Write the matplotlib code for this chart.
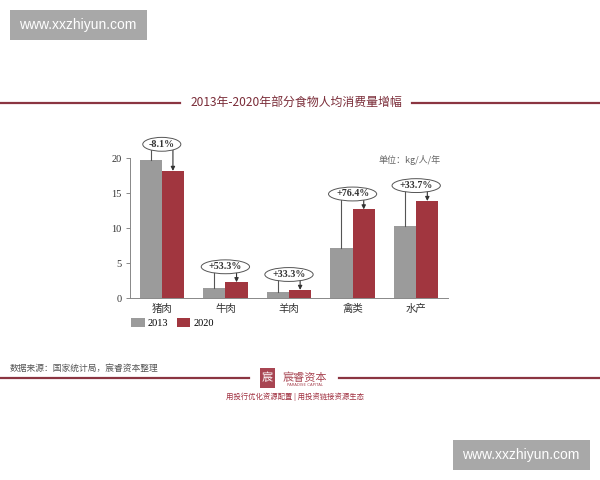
import matplotlib
matplotlib.use("Agg")
import matplotlib.pyplot as plt
from matplotlib.patches import Rectangle
from matplotlib.lines import Line2D
import numpy as np

plt.rcParams['font.family'] = ['Noto Sans CJK SC', 'DejaVu Sans']

categories = ['猪肉', '牛肉', '羊肉', '禽类', '水产']
v2013 = [19.8, 1.5, 0.9, 7.2, 10.4]
v2020 = [18.2, 2.3, 1.2, 12.7, 13.9]
changes = ['-8.1%', '+53.3%', '+33.3%', '+76.4%', '+33.7%']
yticks = [0, 5, 10, 15, 20]

GRAY = '#9b9b9b'
RED = '#a1363f'
DARKRED = '#8b3541'
SERIF = ['Liberation Serif', 'DejaVu Serif']

fig = plt.figure(figsize=(6, 4.8), dpi=100)
fig.patch.set_facecolor('white')

# watermarks
for (x0, y0) in [(10, 10), (453, 440)]:
    fig.patches.append(Rectangle((x0 / 600, 1 - (y0 + 29.5) / 480), 136.5 / 600, 29.5 / 480,
                                 transform=fig.transFigure, fc='#a8a8a8', ec='none'))
    fig.text((x0 + 68) / 600, 1 - (y0 + 15) / 480, 'www.xxzhiyun.com', color='white',
             fontsize=10, family=['Liberation Sans', 'DejaVu Sans'], ha='center', va='center')

# title with lines
ty = 1 - 102.5 / 480
fig.add_artist(Line2D([0, 180 / 600], [ty, ty], transform=fig.transFigure, color=DARKRED, lw=1.6))
fig.add_artist(Line2D([412 / 600, 1], [ty, ty], transform=fig.transFigure, color=DARKRED, lw=1.6))
fig.text(296 / 600, ty, '2013年-2020年部分食物人均消费量增幅', color='#7a2c38', fontsize=8.6,
         ha='center', va='center', family=['Noto Sans CJK SC', 'DejaVu Sans'])

# axes
ax = fig.add_axes([130 / 600, 1 - 298.3 / 480, 318 / 600, 140 / 480])
x = np.arange(len(categories))
w = 0.35
ax.bar(x - w / 2, v2013, w, color=GRAY, label='2013')
ax.bar(x + w / 2, v2020, w, color=RED, label='2020')
ax.set_xlim(-0.5, len(categories) - 0.5)
ax.set_ylim(0, 20)
ax.set_yticks(yticks)
ax.set_yticklabels([str(t) for t in yticks], family=SERIF, fontsize=7.5, color='#333333')
ax.set_xticks(x)
ax.set_xticklabels(categories, fontsize=7.5, color='#333333')
ax.tick_params(axis='x', length=0, pad=4)
ax.tick_params(axis='y', length=3, width=0.6, color='#777777', pad=3)
for s in ['top', 'right']:
    ax.spines[s].set_visible(False)
for s in ['left', 'bottom']:
    ax.spines[s].set_color('#888888')
    ax.spines[s].set_linewidth(0.7)

# annotations
for i in range(len(categories)):
    a, b = v2013[i], v2020[i]
    ya = max(a, b) + 2.2
    xg, xr = x[i] - w / 2, x[i] + w / 2
    ax.plot([xg, xg, xr], [a, ya, ya], color='#555555', lw=0.8, clip_on=False)
    ax.annotate('', xy=(xr, b), xytext=(xr, ya),
                arrowprops=dict(arrowstyle='-|>', lw=0.8, color='#333333',
                                mutation_scale=6, shrinkA=0, shrinkB=0),
                annotation_clip=False)
    ax.text(x[i], ya, changes[i], ha='center', va='center', fontsize=7.2,
            family=SERIF, fontweight='bold', color='#333333', zorder=5, clip_on=False,
            bbox=dict(boxstyle='ellipse,pad=0.04', fc='white', ec='#555555', lw=0.7))

fig.text(441 / 600, 1 - 160 / 480, '单位：kg/人/年', fontsize=6.5, color='#666666',
         ha='right', va='center')

# legend
leg = ax.legend(loc='upper left', bbox_to_anchor=(131 / 600, 1 - 317.5 / 480),
                bbox_transform=fig.transFigure, ncol=2, frameon=False,
                prop={'family': SERIF, 'size': 7.5}, handlelength=1.3, handleheight=1.0,
                handletextpad=0.3, columnspacing=0.8, borderpad=0, borderaxespad=0)

# footer
fig.text(10 / 600, 1 - 368.5 / 480, '数据来源：国家统计局，宸睿资本整理', fontsize=6.3,
         color='#555555', ha='left', va='center')
fy = 1 - 377.5 / 480
fig.add_artist(Line2D([0, 249 / 600], [fy, fy], transform=fig.transFigure, color=DARKRED, lw=1.6))
fig.add_artist(Line2D([339 / 600, 1], [fy, fy], transform=fig.transFigure, color=DARKRED, lw=1.6))
fig.patches.append(Rectangle((260 / 600, 1 - 388 / 480), 15 / 600, 20 / 480,
                             transform=fig.transFigure, fc='#a84552', ec='none'))
fig.text(267.5 / 600, 1 - 378 / 480, '宸', color='white', fontsize=8, ha='center', va='center')
fig.text(305 / 600, 1 - 378 / 480, '宸睿资本', color='#a84552', fontsize=8, ha='center', va='center')
fig.text(305 / 600, 1 - 385.5 / 480, 'PARADISE CAPITAL', color='#a84552', fontsize=2.8,
         ha='center', va='center', family=['DejaVu Sans'])
fig.text(295 / 600, 1 - 396.5 / 480, '用投行优化资源配置 | 用投资链接资源生态', color='#a03040',
         fontsize=5.3, ha='center', va='center')

fig.savefig('out.png', dpi=100, facecolor='white')
